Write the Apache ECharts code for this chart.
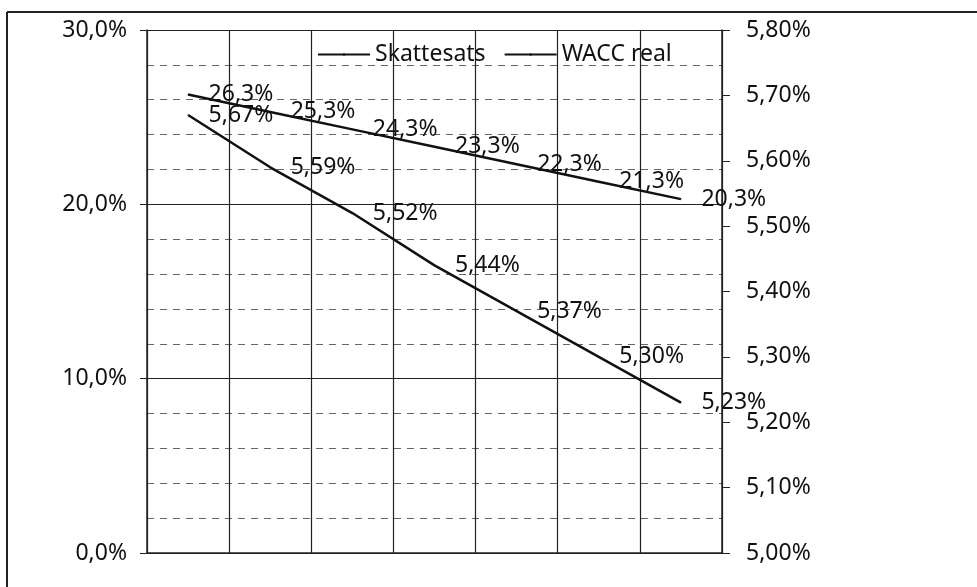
<!DOCTYPE html>
<html>
<head>
<meta charset="utf-8">
<script src="https://cdn.jsdelivr.net/npm/echarts@6/dist/echarts.min.js"></script>
<style>html,body{margin:0;padding:0;background:#fff;}#c{width:977px;height:587px;}</style>
</head>
<body>
<div id="c"></div>
<script>
const categories = ['1', '2', '3', '4', '5', '6', '7'];
const skattesats = [26.3, 25.3, 24.3, 23.3, 22.3, 21.3, 20.3];
const waccReal = [5.67, 5.59, 5.52, 5.44, 5.37, 5.30, 5.23];
const leftTicks = [0, 10, 20, 30];
const rightTicks = [5.0, 5.1, 5.2, 5.3, 5.4, 5.5, 5.6, 5.7, 5.8];

const FONT = 'Noto Sans';
const FS = 23;
const fmt = (v, d) => v.toFixed(d).replace('.', ',') + '%';

const chart = echarts.init(document.getElementById('c'));
chart.setOption({
  animation: false,
  backgroundColor: '#fff',
  textStyle: { fontFamily: FONT },
  grid: { left: 147, right: 255, top: 30, bottom: 34 },
  graphic: [
    { type: 'line', shape: { x1: 7, y1: 12, x2: 977, y2: 12 }, style: { stroke: '#222', lineWidth: 2 } },
    { type: 'line', shape: { x1: 7, y1: 12, x2: 7, y2: 587 }, style: { stroke: '#222', lineWidth: 2 } }
  ],
  legend: {
    left: 312, top: 38,
    itemWidth: 52, itemHeight: 3, itemGap: 18,
    textStyle: { fontFamily: FONT, fontSize: FS, color: '#111' },
    data: ['Skattesats', 'WACC real']
  },
  xAxis: {
    type: 'category',
    data: categories,
    boundaryGap: true,
    axisLine: { lineStyle: { color: '#222', width: 1.5 } },
    axisTick: { show: false },
    axisLabel: { show: false },
    splitLine: { show: true, interval: 0, lineStyle: { color: '#222', width: 1.2 } }
  },
  yAxis: [
    {
      type: 'value', min: 0, max: 30, interval: 10,
      axisLine: { show: true, lineStyle: { color: '#222', width: 1.5 } },
      axisTick: { show: true, length: 7, lineStyle: { color: '#222' } },
      axisLabel: { margin: 20, fontFamily: FONT, fontSize: FS, color: '#111',
        formatter: v => leftTicks.includes(v) ? fmt(v, 1) : '' },
      splitLine: { show: true, lineStyle: { color: '#222', width: 1.2 } },
      minorTick: { show: false, splitNumber: 5 },
      minorSplitLine: { show: true, lineStyle: { color: '#666', width: 1, type: [7, 6] } }
    },
    {
      type: 'value', min: 5.0, max: 5.8, interval: 0.1, position: 'right',
      axisLine: { show: true, lineStyle: { color: '#222', width: 1.5 } },
      axisTick: { show: true, length: 8, lineStyle: { color: '#222' } },
      axisLabel: { margin: 24, fontFamily: FONT, fontSize: FS, color: '#111',
        formatter: v => fmt(v, 2) },
      splitLine: { show: false }
    }
  ],
  series: [
    {
      name: 'Skattesats', type: 'line', yAxisIndex: 0, data: skattesats,
      symbol: 'circle', symbolSize: 1, showSymbol: true,
      lineStyle: { color: '#111', width: 2.5 }, itemStyle: { color: '#111' },
      label: { show: true, position: 'right', distance: 20, fontFamily: FONT, fontSize: FS, color: '#111',
        formatter: p => fmt(p.value, 1) }
    },
    {
      name: 'WACC real', type: 'line', yAxisIndex: 1, data: waccReal,
      symbol: 'circle', symbolSize: 1, showSymbol: true,
      lineStyle: { color: '#111', width: 2.5 }, itemStyle: { color: '#111' },
      label: { show: true, position: 'right', distance: 20, fontFamily: FONT, fontSize: FS, color: '#111',
        formatter: p => fmt(p.value, 2) }
    }
  ]
});
</script>
</body>
</html>
